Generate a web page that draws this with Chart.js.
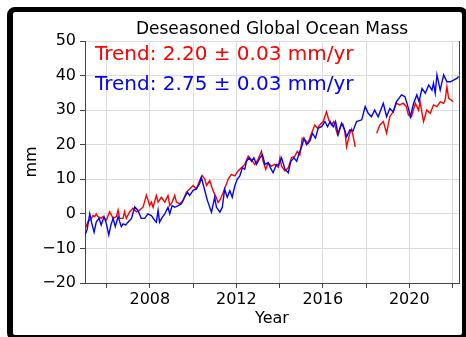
<!DOCTYPE html>
<html>
<head>
<meta charset="utf-8">
<script src="https://cdn.jsdelivr.net/npm/chart.js@4/dist/chart.umd.min.js"></script>
<style>
  html, body { margin: 0; padding: 0; background: #fff; }
  #wrap { position: relative; width: 466px; height: 337px; overflow: hidden; }
  #chart { position: absolute; left: 0; top: 0; }
  #frame {
    position: absolute; left: 7px; top: 7px; width: 461px; height: 334px;
    box-sizing: border-box; border: 6px solid #000; border-top-width: 5px; border-radius: 8px;
    pointer-events: none;
  }
</style>
</head>
<body>
<div id="wrap">
  <canvas id="chart" width="466" height="337"></canvas>
  <div id="frame"></div>
</div>
<script>
// GRACE (red) series, decimal year / mm, gap between missions marked with null
const redYears = [
  2005.00, 2005.07, 2005.14, 2005.30, 2005.37, 2005.45, 2005.52, 2005.60, 2005.75, 2005.83,
  2005.99, 2006.14, 2006.30, 2006.45, 2006.53, 2006.60, 2006.76, 2006.83, 2006.91, 2007.07,
  2007.22, 2007.38, 2007.53, 2007.69, 2007.84, 2007.92, 2007.99, 2008.07, 2008.15, 2008.30,
  2008.38, 2008.53, 2008.69, 2008.84, 2008.92, 2009.03, 2009.15, 2009.23, 2009.38, 2009.54,
  2009.69, 2009.84, 2010.00, 2010.15, 2010.30, 2010.42, 2010.54, 2010.62, 2010.77, 2010.88,
  2010.96, 2011.04, 2011.16, 2011.27, 2011.39, 2011.54, 2011.62, 2011.77, 2011.93, 2012.08,
  2012.23, 2012.39, 2012.55, 2012.70, 2012.85, 2013.00, 2013.16, 2013.24, 2013.36, 2013.47,
  2013.62, 2013.78, 2013.94, 2014.02, 2014.09, 2014.25, 2014.40, 2014.55, 2014.71, 2014.82,
  2014.94, 2015.05, 2015.16, 2015.32, 2015.48, 2015.63, 2015.75, 2015.86, 2016.02, 2016.17,
  2016.28, 2016.40, 2016.51, 2016.68, 2016.84, 2016.93, 2017.02, 2017.10, 2017.25, 2017.33,
  2017.42, 2017.50, 2018.00, 2018.49, 2018.64, 2018.80, 2018.95, 2019.10, 2019.26, 2019.40,
  2019.56, 2019.72, 2019.86, 2019.96, 2020.10, 2020.28, 2020.43, 2020.50, 2020.66, 2020.81,
  2020.97, 2021.12, 2021.28, 2021.43, 2021.59, 2021.66, 2021.74, 2021.82, 2021.93, 2022.02
];
const redMass = [
  -2.7, -3.5, -2.2, -1.3, -0.5, -0.8, 0.0, -0.8, -1.3, -0.8,
  -1.8, 0.6, -1.3, -0.8, 1.1, -1.3, -1.3, 0.6, -1.3, 0.6,
  1.6, 0.6, 1.1, 2.0, 5.4, 3.9, 2.4, 3.4, 1.9, 5.3,
  3.4, 4.8, 3.4, 5.3, 2.4, 3.4, 5.3, 3.4, 2.9, 3.9,
  6.3, 7.2, 8.2, 7.2, 9.6, 11.1, 10.1, 8.2, 9.6, 7.5,
  6.2, 5.2, 3.3, 4.3, 6.2, 8.6, 10.0, 11.4, 11.0, 12.4,
  13.3, 14.3, 16.7, 15.7, 14.3, 15.7, 18.1, 15.2, 12.9, 14.8,
  13.8, 14.3, 13.5, 16.2, 13.8, 12.4, 13.3, 16.2, 16.7, 18.1,
  17.1, 21.9, 21.4, 20.5, 23.3, 25.7, 24.8, 25.7, 26.7, 29.5,
  27.1, 25.7, 26.7, 22.9, 25.7, 26.0, 23.8, 19.4, 23.3, 24.5,
  22.0, 19.4, null, 23.3, 25.7, 26.7, 23.3, 28.1, 29.6, 32.0,
  31.5, 32.0, 31.0, 28.6, 28.1, 32.0, 30.0, 32.4, 26.7, 30.0,
  29.1, 31.5, 31.0, 32.4, 32.0, 33.0, 36.8, 33.4, 33.0, 32.4
];

// combined (blue) series, decimal year / mm
const blueYears = [
  2005.00, 2005.10, 2005.22, 2005.30, 2005.42, 2005.52, 2005.65, 2005.75, 2005.88, 2005.99,
  2006.10, 2006.20, 2006.30, 2006.40, 2006.53, 2006.68, 2006.76, 2006.88, 2006.99, 2007.15,
  2007.30, 2007.45, 2007.60, 2007.76, 2007.91, 2008.07, 2008.22, 2008.30, 2008.38, 2008.45,
  2008.57, 2008.69, 2008.84, 2008.92, 2009.03, 2009.15, 2009.31, 2009.46, 2009.61, 2009.74,
  2009.84, 2010.00, 2010.15, 2010.30, 2010.38, 2010.50, 2010.66, 2010.85, 2011.00, 2011.08,
  2011.24, 2011.35, 2011.46, 2011.58, 2011.70, 2011.81, 2011.93, 2012.04, 2012.16, 2012.28,
  2012.39, 2012.47, 2012.59, 2012.70, 2012.81, 2012.93, 2013.09, 2013.21, 2013.32, 2013.47,
  2013.58, 2013.70, 2013.86, 2013.95, 2014.09, 2014.25, 2014.40, 2014.52, 2014.67, 2014.79,
  2014.94, 2015.05, 2015.13, 2015.25, 2015.40, 2015.52, 2015.66, 2015.79, 2015.94, 2016.10,
  2016.22, 2016.34, 2016.48, 2016.59, 2016.71, 2016.87, 2017.00, 2017.10, 2017.25, 2017.40,
  2017.56, 2017.80, 2017.96, 2018.10, 2018.25, 2018.40, 2018.56, 2018.80, 2018.95, 2019.10,
  2019.26, 2019.40, 2019.64, 2019.80, 2019.96, 2020.05, 2020.20, 2020.35, 2020.45, 2020.59,
  2020.74, 2020.90, 2021.05, 2021.12, 2021.20, 2021.28, 2021.43, 2021.59, 2021.74, 2021.90,
  2022.05, 2022.20, 2022.28
];
const blueMass = [
  -6.1, -4.5, 0.0, -2.4, -5.3, -2.4, -1.3, -3.2, -0.8, -2.9,
  -6.1, -3.2, -1.3, -3.7, -0.8, -3.7, -2.9, -3.2, -2.4, -1.3,
  2.0, 1.0, -1.3, -1.3, 0.0, -0.5, -1.9, -2.4, 1.0, -2.4,
  -1.0, 0.0, 1.9, 0.0, 2.4, 1.9, 2.4, 2.9, 4.8, 6.3,
  5.3, 6.8, 7.2, 8.7, 10.6, 7.7, 3.9, 0.5, 4.8, 1.9,
  0.5, 1.9, 7.1, 4.8, 6.7, 4.8, 8.1, 10.0, 11.0, 13.3,
  12.9, 15.2, 16.2, 15.2, 16.2, 14.3, 16.2, 17.1, 14.3, 14.8,
  13.3, 11.9, 14.3, 14.0, 16.2, 12.9, 11.9, 15.2, 16.2, 15.2,
  18.1, 20.0, 21.9, 20.0, 21.0, 23.3, 21.9, 24.8, 25.2, 26.7,
  25.2, 26.7, 25.2, 26.7, 22.9, 26.2, 24.5, 22.3, 24.3, 24.0,
  26.7, 27.2, 31.0, 29.1, 28.1, 30.0, 28.1, 32.0, 28.1, 30.5,
  29.5, 32.4, 34.4, 33.9, 30.5, 28.1, 32.0, 34.4, 32.5, 36.3,
  34.9, 37.3, 35.8, 37.8, 34.9, 40.2, 35.8, 40.2, 38.2, 38.2,
  38.7, 39.2, 39.7
];

const yearTicks = [2006, 2008, 2010, 2012, 2014, 2016, 2018, 2020, 2022];
const yearLabels = [2008, 2012, 2016, 2020];
const chartTitle = 'Deseasoned Global Ocean Mass';
const trendLabels = ['Trend: 2.20 \u00b1 0.03 mm/yr', 'Trend: 2.75 \u00b1 0.03 mm/yr'];
const trendColors = ['#ff0000', '#0000ff'];

const FONT = 'DejaVu Sans';

const toPoints = (xs, ys) => xs.map((x, i) => ({ x: x, y: ys[i] }));

// title centred on the plot area, right spine, trend annotations
const extras = {
  id: 'extras',
  afterDraw(chart) {
    const { ctx, chartArea } = chart;
    ctx.save();
    ctx.strokeStyle = '#444';
    ctx.lineWidth = 1;
    ctx.beginPath();
    ctx.moveTo(chartArea.right + 0.5, chartArea.top);
    ctx.lineTo(chartArea.right + 0.5, chartArea.bottom);
    ctx.stroke();

    ctx.fillStyle = '#000';
    ctx.font = '17px "' + FONT + '"';
    ctx.textAlign = 'center';
    ctx.textBaseline = 'alphabetic';
    ctx.fillText(chartTitle, (chartArea.left + chartArea.right) / 2, chartArea.top - 7);

    ctx.font = '20px "' + FONT + '"';
    ctx.textAlign = 'left';
    trendLabels.forEach((t, i) => {
      ctx.fillStyle = trendColors[i];
      ctx.fillText(t, chartArea.left + 10, chartArea.top + 18.5 + i * 30);
    });
    ctx.restore();
  }
};

new Chart(document.getElementById('chart'), {
  type: 'line',
  data: {
    datasets: [
      {
        label: 'GRACE',
        data: toPoints(redYears, redMass),
        borderColor: '#ff0000',
        borderWidth: 1.4,
        pointRadius: 0,
        tension: 0,
        spanGaps: false,
        order: 1
      },
      {
        label: 'Combined',
        data: toPoints(blueYears, blueMass),
        borderColor: '#0000ff',
        borderWidth: 1.4,
        pointRadius: 0,
        tension: 0,
        order: 0
      }
    ]
  },
  options: {
    responsive: false,
    animation: false,
    layout: { padding: { left: 0, right: 7, top: 41, bottom: 0 } },
    plugins: {
      legend: { display: false },
      tooltip: { enabled: false },
      title: { display: false }
    },
    scales: {
      x: {
        type: 'linear',
        min: 2005.0,
        max: 2022.3,
        afterBuildTicks: (scale) => { scale.ticks = yearTicks.map(v => ({ value: v })); },
        afterFit: (scale) => { scale.height = 54; },
        ticks: {
          autoSkip: false,
          maxRotation: 0,
          padding: 2,
          color: '#000',
          font: { family: FONT, size: 16 },
          callback: (v) => yearLabels.includes(v) ? String(v) : ''
        },
        grid: { color: '#dcdcdc', tickColor: '#444', tickLength: 5 },
        border: { color: '#444' },
        title: {
          display: true,
          text: 'Year',
          color: '#000',
          font: { family: FONT, size: 16 },
          padding: { top: 0, bottom: 9 }
        }
      },
      y: {
        min: -20,
        max: 50,
        afterFit: (scale) => { scale.width = 85; },
        ticks: {
          stepSize: 10,
          padding: 4,
          color: '#000',
          font: { family: FONT, size: 16 },
          callback: (v) => String(v).replace('-', '\u2212')
        },
        grid: { color: '#dcdcdc', tickColor: '#444', tickLength: 5 },
        border: { color: '#444' },
        title: {
          display: true,
          text: 'mm',
          color: '#000',
          font: { family: FONT, size: 16 },
          padding: { top: 22, bottom: 0 }
        }
      }
    }
  },
  plugins: [extras]
});
</script>
</body>
</html>
